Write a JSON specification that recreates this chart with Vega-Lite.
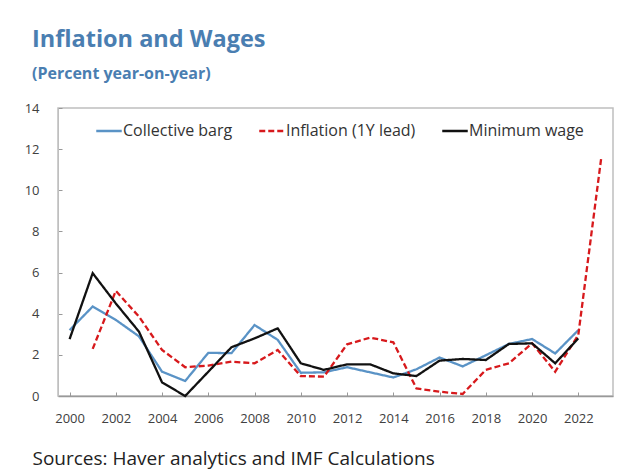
{
  "$schema": "https://vega.github.io/schema/vega-lite/v6.json",
  "width": 555,
  "height": 288,
  "autosize": {"type": "none"},
  "padding": {"left": 58, "top": 108, "right": 20, "bottom": 73},
  "background": "white",
  "config": {"view": {"stroke": "#BFBFBF", "strokeWidth": 1.5}},
  "title": {
    "text": "Inflation and Wages",
    "subtitle": "(Percent year-on-year)",
    "anchor": "start",
    "frame": "group",
    "dx": -26,
    "font": "Open Sans",
    "fontSize": 23.5,
    "fontWeight": "bold",
    "color": "#4A7EB1",
    "subtitleFont": "Open Sans",
    "subtitleFontSize": 16,
    "subtitleFontWeight": "bold",
    "subtitleColor": "#4A7EB1",
    "subtitlePadding": 15,
    "offset": 20
  },
  "data": {
    "values": [
      {"year": 2000, "series": "Collective barg", "value": 3.2},
      {"year": 2001, "series": "Collective barg", "value": 4.35},
      {"year": 2002, "series": "Collective barg", "value": 3.7},
      {"year": 2003, "series": "Collective barg", "value": 2.9},
      {"year": 2004, "series": "Collective barg", "value": 1.18},
      {"year": 2005, "series": "Collective barg", "value": 0.73},
      {"year": 2006, "series": "Collective barg", "value": 2.1},
      {"year": 2007, "series": "Collective barg", "value": 2.08},
      {"year": 2008, "series": "Collective barg", "value": 3.45},
      {"year": 2009, "series": "Collective barg", "value": 2.73},
      {"year": 2010, "series": "Collective barg", "value": 1.13},
      {"year": 2011, "series": "Collective barg", "value": 1.15},
      {"year": 2012, "series": "Collective barg", "value": 1.4},
      {"year": 2013, "series": "Collective barg", "value": 1.15},
      {"year": 2014, "series": "Collective barg", "value": 0.9},
      {"year": 2015, "series": "Collective barg", "value": 1.3},
      {"year": 2016, "series": "Collective barg", "value": 1.87},
      {"year": 2017, "series": "Collective barg", "value": 1.44},
      {"year": 2018, "series": "Collective barg", "value": 1.98},
      {"year": 2019, "series": "Collective barg", "value": 2.53},
      {"year": 2020, "series": "Collective barg", "value": 2.77},
      {"year": 2021, "series": "Collective barg", "value": 2.07},
      {"year": 2022, "series": "Collective barg", "value": 3.2},
      {"year": 2001, "series": "Inflation (1Y lead)", "value": 2.29},
      {"year": 2002, "series": "Inflation (1Y lead)", "value": 5.11},
      {"year": 2003, "series": "Inflation (1Y lead)", "value": 3.86},
      {"year": 2004, "series": "Inflation (1Y lead)", "value": 2.24},
      {"year": 2005, "series": "Inflation (1Y lead)", "value": 1.4},
      {"year": 2006, "series": "Inflation (1Y lead)", "value": 1.48},
      {"year": 2007, "series": "Inflation (1Y lead)", "value": 1.67},
      {"year": 2008, "series": "Inflation (1Y lead)", "value": 1.59},
      {"year": 2009, "series": "Inflation (1Y lead)", "value": 2.24},
      {"year": 2010, "series": "Inflation (1Y lead)", "value": 0.97},
      {"year": 2011, "series": "Inflation (1Y lead)", "value": 0.94},
      {"year": 2012, "series": "Inflation (1Y lead)", "value": 2.51},
      {"year": 2013, "series": "Inflation (1Y lead)", "value": 2.84},
      {"year": 2014, "series": "Inflation (1Y lead)", "value": 2.61},
      {"year": 2015, "series": "Inflation (1Y lead)", "value": 0.37},
      {"year": 2016, "series": "Inflation (1Y lead)", "value": 0.21},
      {"year": 2017, "series": "Inflation (1Y lead)", "value": 0.1},
      {"year": 2018, "series": "Inflation (1Y lead)", "value": 1.27},
      {"year": 2019, "series": "Inflation (1Y lead)", "value": 1.59},
      {"year": 2020, "series": "Inflation (1Y lead)", "value": 2.56},
      {"year": 2021, "series": "Inflation (1Y lead)", "value": 1.18},
      {"year": 2022, "series": "Inflation (1Y lead)", "value": 2.97},
      {"year": 2023, "series": "Inflation (1Y lead)", "value": 11.65},
      {"year": 2000, "series": "Minimum wage", "value": 2.76},
      {"year": 2001, "series": "Minimum wage", "value": 5.97},
      {"year": 2002, "series": "Minimum wage", "value": 4.5},
      {"year": 2003, "series": "Minimum wage", "value": 3.13},
      {"year": 2004, "series": "Minimum wage", "value": 0.66},
      {"year": 2005, "series": "Minimum wage", "value": 0.0},
      {"year": 2006, "series": "Minimum wage", "value": 1.18},
      {"year": 2007, "series": "Minimum wage", "value": 2.37},
      {"year": 2008, "series": "Minimum wage", "value": 2.8},
      {"year": 2009, "series": "Minimum wage", "value": 3.29},
      {"year": 2010, "series": "Minimum wage", "value": 1.59},
      {"year": 2011, "series": "Minimum wage", "value": 1.27},
      {"year": 2012, "series": "Minimum wage", "value": 1.54},
      {"year": 2013, "series": "Minimum wage", "value": 1.54},
      {"year": 2014, "series": "Minimum wage", "value": 1.1},
      {"year": 2015, "series": "Minimum wage", "value": 0.97},
      {"year": 2016, "series": "Minimum wage", "value": 1.72},
      {"year": 2017, "series": "Minimum wage", "value": 1.8},
      {"year": 2018, "series": "Minimum wage", "value": 1.75},
      {"year": 2019, "series": "Minimum wage", "value": 2.53},
      {"year": 2020, "series": "Minimum wage", "value": 2.56},
      {"year": 2021, "series": "Minimum wage", "value": 1.59},
      {"year": 2022, "series": "Minimum wage", "value": 2.8}
    ]
  },
  "mark": {"type": "line", "strokeWidth": 2.3},
  "encoding": {
    "x": {
      "field": "year",
      "type": "ordinal",
      "scale": {"type": "point", "padding": 0.5},
      "axis": {
        "title": "Sources: Haver analytics and IMF Calculations",
        "titleAnchor": "start",
        "titleAlign": "left",
        "titleX": -26,
        "titleY": 68,
        "titleBaseline": "alphabetic",
        "titleFont": "Open Sans",
        "titleFontSize": 19,
        "titleFontWeight": "normal",
        "titleColor": "#222222",
        "labelAngle": 0,
        "values": [2000, 2002, 2004, 2006, 2008, 2010, 2012, 2014, 2016, 2018, 2020, 2022],
        "ticks": true,
        "tickSize": -4,
        "tickColor": "#999999",
        "domain": true,
        "domainColor": "#999999",
        "domainWidth": 1.5,
        "labelFont": "Open Sans",
        "labelFontSize": 13,
        "labelColor": "#404040",
        "labelPadding": 20
      }
    },
    "y": {
      "field": "value",
      "type": "quantitative",
      "scale": {"domain": [0, 14], "nice": false},
      "axis": {
        "title": null,
        "tickCount": 7,
        "grid": false,
        "domain": true,
        "domainColor": "#BFBFBF",
        "ticks": true,
        "tickSize": -4,
        "tickColor": "#999999",
        "labelFont": "Open Sans",
        "labelFontSize": 13,
        "labelColor": "#404040",
        "labelPadding": 23
      }
    },
    "color": {
      "field": "series",
      "type": "nominal",
      "scale": {
        "domain": ["Collective barg", "Inflation (1Y lead)", "Minimum wage"],
        "range": ["#5A93C6", "#D7191C", "#111111"]
      },
      "legend": {
        "orient": "none",
        "legendX": 37,
        "legendY": 9,
        "direction": "horizontal",
        "title": null,
        "symbolType": "stroke",
        "symbolSize": 650,
        "symbolStrokeWidth": 2.3,
        "labelFont": "Open Sans",
        "labelFontSize": 16,
        "labelColor": "#333333",
        "labelOffset": 0,
        "columnPadding": 21
      }
    },
    "strokeDash": {
      "field": "series",
      "type": "nominal",
      "scale": {
        "domain": ["Collective barg", "Inflation (1Y lead)", "Minimum wage"],
        "range": [[1, 0], [6, 3], [1, 0]]
      },
      "legend": {
        "orient": "none",
        "legendX": 37,
        "legendY": 9,
        "direction": "horizontal",
        "title": null,
        "symbolType": "stroke",
        "symbolSize": 650,
        "symbolStrokeWidth": 2.3,
        "labelFont": "Open Sans",
        "labelFontSize": 16,
        "labelColor": "#333333",
        "labelOffset": 0,
        "columnPadding": 21
      }
    }
  }
}
